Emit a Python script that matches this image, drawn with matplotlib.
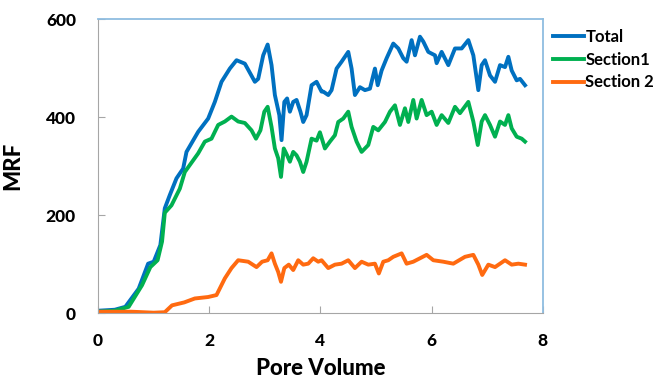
import matplotlib
matplotlib.use("Agg")
import matplotlib.pyplot as plt
import numpy as np

# pore volume vs MRF
total_pv = [0.0, 0.3, 0.49, 0.73, 0.90, 1.0, 1.12, 1.2, 1.29, 1.41, 1.53, 1.59, 1.80, 1.98, 2.10,
            2.22, 2.37, 2.49, 2.64, 2.82, 2.88, 2.97, 3.05, 3.12, 3.18, 3.26, 3.30, 3.35, 3.40,
            3.45, 3.51, 3.57, 3.64, 3.69, 3.75, 3.84, 3.93, 4.02, 4.05, 4.14, 4.20, 4.29, 4.38,
            4.50, 4.56, 4.62, 4.71, 4.80, 4.89, 4.98, 5.03, 5.10, 5.19, 5.31, 5.40, 5.49, 5.55,
            5.64, 5.70, 5.79, 5.85, 5.94, 6.06, 6.09, 6.18, 6.30, 6.42, 6.54, 6.66, 6.75, 6.84,
            6.90, 6.96, 7.05, 7.14, 7.23, 7.32, 7.38, 7.44, 7.53, 7.59, 7.68]
total_mrf = [5, 7, 13, 50, 101, 105, 139, 214, 241, 275, 295, 329, 370, 397, 431,
             472, 499, 516, 509, 472, 478, 526, 548, 506, 445, 404, 353, 431, 438,
             411, 431, 435, 411, 390, 404, 465, 472, 452, 452, 445, 455, 499, 513,
             533, 499, 445, 461, 455, 458, 499, 465, 495, 520, 550, 540, 520, 513,
             557, 526, 564, 554, 533, 526, 510, 533, 506, 540, 540, 557, 526, 455,
             506, 516, 485, 472, 506, 502, 523, 495, 475, 478, 465]

sec1_pv = [0.0, 0.3, 0.55, 0.79, 0.94, 1.07, 1.15, 1.2, 1.32, 1.47, 1.56, 1.80, 1.92, 2.04,
           2.16, 2.28, 2.40, 2.52, 2.64, 2.76, 2.84, 2.92, 2.99, 3.05, 3.12, 3.18, 3.24, 3.29,
           3.34, 3.40, 3.45, 3.51, 3.57, 3.63, 3.69, 3.75, 3.84, 3.93, 3.99, 4.08, 4.17,
           4.26, 4.32, 4.41, 4.50, 4.56, 4.65, 4.74, 4.86, 4.95, 5.04, 5.16, 5.25, 5.34,
           5.43, 5.52, 5.58, 5.67, 5.73, 5.82, 5.91, 6.00, 6.09, 6.18, 6.30, 6.42, 6.51,
           6.66, 6.75, 6.83, 6.90, 6.96, 7.05, 7.14, 7.23, 7.32, 7.38, 7.44, 7.53, 7.62, 7.68]
sec1_mrf = [3, 5, 13, 57, 94, 108, 146, 205, 220, 254, 288, 326, 350, 356,
            384, 391, 401, 391, 388, 373, 356, 373, 411, 421, 380, 336, 316, 278,
            336, 322, 309, 329, 322, 309, 288, 309, 356, 352, 369, 336, 350,
            363, 390, 397, 411, 380, 350, 329, 343, 380, 373, 390, 411, 424,
            384, 418, 390, 435, 397, 435, 404, 411, 384, 404, 388, 421, 408,
            431, 391, 343, 391, 404, 384, 360, 391, 384, 404, 377, 360, 356, 350]

sec2_pv = [0.0, 0.6, 1.0, 1.2, 1.33, 1.55, 1.74, 1.98, 2.13, 2.28, 2.40, 2.52, 2.70, 2.85,
           2.95, 3.05, 3.12, 3.18, 3.24, 3.29, 3.35, 3.43, 3.51, 3.60, 3.69, 3.78, 3.87,
           3.96, 4.02, 4.14, 4.26, 4.38, 4.50, 4.62, 4.74, 4.86, 4.98, 5.05, 5.13, 5.22,
           5.31, 5.46, 5.55, 5.67, 5.79, 5.91, 6.03, 6.21, 6.39, 6.60, 6.75, 6.84, 6.91,
           7.02, 7.14, 7.32, 7.44, 7.56, 7.68]
sec2_mrf = [3, 3, 1, 2, 16, 22, 30, 33, 37, 71, 92, 108, 105, 94,
            105, 108, 122, 101, 84, 64, 92, 99, 88, 108, 99, 101, 112,
            105, 108, 92, 99, 101, 108, 92, 105, 99, 101, 81, 105, 108,
            115, 122, 101, 105, 112, 119, 108, 105, 101, 115, 119, 99, 78,
            99, 94, 108, 99, 101, 99]

FONT = ["Lato", "DejaVu Sans"]

fig = plt.figure(figsize=(6.54, 3.81), dpi=100)
ax = fig.add_axes([0.150, 0.178, 0.680, 0.772])

ax.plot(total_pv, total_mrf, color="#0070C0", lw=2.8, label="Total")
ax.plot(sec1_pv, sec1_mrf, color="#00B050", lw=2.8, label="Section1")
ax.plot(sec2_pv, sec2_mrf, color="#FF6A10", lw=2.8, label="Section 2")

ax.set_xlim(0, 8)
ax.set_ylim(0, 600)
ax.set_xticks([0, 2, 4, 6, 8])
ax.set_yticks([0, 200, 400, 600])
ax.tick_params(direction="in", length=5, color="#a6a6a6", labelsize=12.5, pad=16)
ax.tick_params(axis="x", pad=14)
for lab in ax.get_xticklabels() + ax.get_yticklabels():
    lab.set_fontweight("black")
    lab.set_family(FONT)

for s in ("left", "bottom"):
    ax.spines[s].set_color("#a6a6a6")
for s in ("top", "right"):
    ax.spines[s].set_color("#8fbde0")
    ax.spines[s].set_linewidth(1.3)

ax.set_xlabel("Pore Volume", fontsize=16, fontweight="black", family=FONT, labelpad=7)
ax.set_ylabel("MRF", fontsize=16, fontweight="black", family=FONT, labelpad=16)

leg = ax.legend(loc="upper left", bbox_to_anchor=(1.0, 1.0), frameon=False,
                handlelength=1.9, handletextpad=0.05, labelspacing=0.4, borderaxespad=0.4,
                borderpad=0.2, prop={"family": FONT, "weight": "bold", "size": 12})

fig.savefig("out.png", dpi=100)
